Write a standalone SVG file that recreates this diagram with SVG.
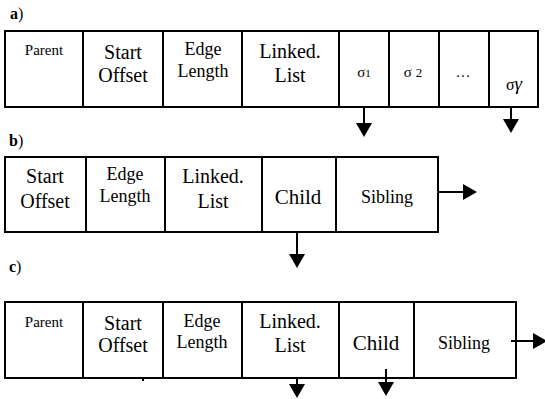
<svg xmlns="http://www.w3.org/2000/svg" width="545" height="399" viewBox="0 0 545 399">
<style>
.box{fill:#fff;stroke:#000;stroke-width:2}
.div{stroke:#000;stroke-width:2}
text{font-family:"Liberation Serif","Times New Roman",serif;fill:#000;text-anchor:middle}
.lbl{text-anchor:start;font-size:16px}
.conn line{stroke:#000;stroke-width:2}
</style>
<defs>
<marker id="ah" viewBox="0 0 14 16" refX="0" refY="8" markerWidth="14" markerHeight="16" markerUnits="userSpaceOnUse" orient="auto">
<path d="M0,0 L14,8 L0,16 z" fill="#000"/>
</marker>
</defs>

<text class="lbl" x="10" y="19"><tspan font-weight="bold">a</tspan>)</text>
<text class="lbl" x="9" y="146"><tspan font-weight="bold">b</tspan>)</text>
<text class="lbl" x="9" y="272"><tspan font-weight="bold">c</tspan>)</text>

<!-- Row a -->
<g id="row-a">
<rect class="box" x="5" y="31" width="533" height="76"/>
<line class="div" x1="83" y1="31" x2="83" y2="107"/>
<line class="div" x1="163" y1="31" x2="163" y2="107"/>
<line class="div" x1="242" y1="31" x2="242" y2="107"/>
<line class="div" x1="339" y1="31" x2="339" y2="107"/>
<line class="div" x1="389" y1="31" x2="389" y2="107"/>
<line class="div" x1="439" y1="31" x2="439" y2="107"/>
<line class="div" x1="489" y1="31" x2="489" y2="107"/>
</g>
<g id="a-parent"><text x="44" y="55" font-size="15">Parent</text></g>
<g id="a-start"><text x="123" y="59" font-size="20">Start</text><text x="123" y="82" font-size="20">Offset</text></g>
<g id="a-edge"><text x="203" y="55" font-size="18">Edge</text><text x="203" y="77" font-size="18">Length</text></g>
<g id="a-linked"><text x="290" y="58" font-size="20">Linked.</text><text x="290" y="82" font-size="20">List</text></g>
<g id="a-s1"><text x="364" y="77" font-size="15">σ<tspan font-size="11">1</tspan></text></g>
<g id="a-s2"><text x="413" y="77" font-size="15">σ <tspan font-size="13">2</tspan></text></g>
<g id="a-dots"><text x="463" y="77" font-size="15">…</text></g>
<g id="a-sg"><text x="514" y="90" font-size="16">σ<tspan font-style="italic" font-size="19">γ</tspan></text></g>

<!-- Row b -->
<g id="row-b">
<rect class="box" x="5" y="157" width="433" height="75"/>
<line class="div" x1="86" y1="157" x2="86" y2="232"/>
<line class="div" x1="165" y1="157" x2="165" y2="232"/>
<line class="div" x1="262" y1="157" x2="262" y2="232"/>
<line class="div" x1="336" y1="157" x2="336" y2="232"/>
</g>
<g id="b-start"><text x="45" y="183" font-size="20">Start</text><text x="45" y="208" font-size="20">Offset</text></g>
<g id="b-edge"><text x="125" y="180" font-size="18">Edge</text><text x="125" y="202" font-size="18">Length</text></g>
<g id="b-linked"><text x="213" y="183" font-size="20">Linked.</text><text x="213" y="208" font-size="20">List</text></g>
<g id="b-child"><text x="298" y="204" font-size="21">Child</text></g>
<g id="b-sibling"><text x="387" y="203" font-size="18">Sibling</text></g>

<!-- Row c -->
<g id="row-c">
<rect class="box" x="5" y="302" width="511" height="76"/>
<line class="div" x1="83" y1="302" x2="83" y2="378"/>
<line class="div" x1="163" y1="302" x2="163" y2="378"/>
<line class="div" x1="242" y1="302" x2="242" y2="378"/>
<line class="div" x1="339" y1="302" x2="339" y2="378"/>
<line class="div" x1="414" y1="302" x2="414" y2="378"/>
</g>
<g id="c-parent"><text x="44" y="327" font-size="15">Parent</text></g>
<g id="c-start"><text x="123" y="330" font-size="20">Start</text><text x="123" y="352" font-size="20">Offset</text></g>
<g id="c-edge"><text x="202" y="327" font-size="18">Edge</text><text x="202" y="348" font-size="18">Length</text></g>
<g id="c-linked"><text x="290" y="328" font-size="20">Linked.</text><text x="290" y="352" font-size="20">List</text></g>
<g id="c-child"><text x="376" y="350" font-size="21">Child</text></g>
<g id="c-sibling"><text x="464" y="349" font-size="18">Sibling</text></g>
<rect x="142" y="379" width="2" height="2" fill="#000"/>

<g id="connectors" class="conn">
<line x1="364" y1="107" x2="364" y2="123" marker-end="url(#ah)"/>
<line x1="511" y1="107" x2="511" y2="119" marker-end="url(#ah)"/>
<line x1="438" y1="192" x2="463" y2="192" marker-end="url(#ah)"/>
<line x1="297" y1="232" x2="297" y2="254" marker-end="url(#ah)"/>
<line x1="511" y1="341" x2="533" y2="341" marker-end="url(#ah)"/>
<line x1="297" y1="378" x2="297" y2="384" marker-end="url(#ah)"/>
<line x1="386" y1="369" x2="386" y2="382" marker-end="url(#ah)"/>
</g>
</svg>
